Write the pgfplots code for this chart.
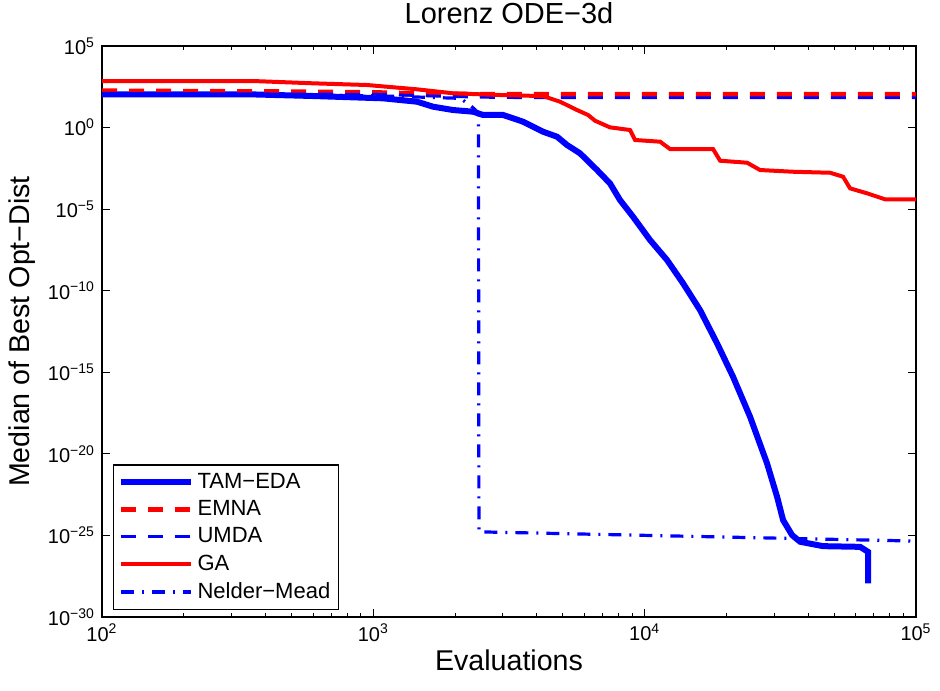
\documentclass[border=0pt]{standalone}
\usepackage{fontspec}
\setmainfont{Liberation Sans}
\usepackage{pgfplots}
\pgfplotsset{compat=1.18}
\newcommand{\tp}[1]{10\textsuperscript{#1}}
\definecolor{mblue}{RGB}{0,0,255}
\definecolor{mred}{RGB}{255,0,0}
\begin{document}
\begin{tikzpicture}
\useasboundingbox (-51pt,-36.5pt) rectangle (419pt,308.5pt);
\begin{axis}[
  at={(0,0)}, anchor=south west,
  scale only axis, width=407pt, height=285.5pt,
  xmode=log, ymode=log,
  xmin=100, xmax=1e5, ymin=1e-30, ymax=1e5,
  xtick={1e2,1e3,1e4,1e5},
  xticklabels={\tp{2},\tp{3},\tp{4},\tp{5}},
  ytick={1e-30,1e-25,1e-20,1e-15,1e-10,1e-5,1e0,1e5},
  yticklabels={\tp{−30},\tp{−25},\tp{−20},\tp{−15},\tp{−10},\tp{−5},\tp{0},\tp{5}},
  yminorticks=false,
  tick align=inside,
  major tick length=4pt, minor tick length=2pt,
  every tick/.style={black, line width=0.5pt},
  axis line style={line width=0.6pt},
  ticklabel style={font=\fontsize{10}{12}\selectfont},
  title={\fontsize{14.5}{16}\selectfont Lorenz ODE−3d},
  title style={at={(axis description cs:0.5,1)}, anchor=base, yshift=5pt, inner sep=0pt},
  xlabel={Evaluations},
  ylabel={Median of Best Opt−Dist},
  label style={font=\fontsize{14.3}{16}\selectfont},
  ylabel style={at={(axis description cs:-0.098,0.5)}, anchor=center, rotate=0},
  xlabel style={at={(axis description cs:0.5,0)}, anchor=center, yshift=-21.5pt},
  legend style={at={(axis description cs:0.0135,0.012)}, anchor=south west,
    draw=black, line width=0.6pt, font=\fontsize{11}{13}\selectfont,
    row sep=0.6pt, inner sep=2pt},
  legend cell align=left,
  legend image code/.code={\draw[#1] (0pt,0pt) -- (35pt,0pt);},
]
% TAM-EDA
\addplot[mblue, line width=3pt] coordinates {
(100,109) (351,109) (600,86) (1086,62) (1449,38.5) (1660,19) (1967,11.9)
(2331,9.4) (2537,5.9) (3006,5.9) (3273,3.69) (3563,2.29) (3876,1.13)
(4222,0.557) (4755,0.275) (5176,0.085) (5778,0.0264) (6676,2.5e-3)
(7450,3.8e-4) (8113,3.6e-5) (9062,3.4e-6) (10470,1.27e-7) (12090,7.6e-9)
(13860,2.8e-10) (16000,6.5e-12) (18490,5.9e-14) (21170,5.3e-16)
(24450,1.9e-18) (28250,2.6e-21) (30770,2.3e-23) (32370,8.7e-25)
(34930,1.05e-25) (37400,4.1e-26) (45460,2.2e-26) (62230,2.0e-26)
(66600,9.8e-27) (66600,1.15e-28)
};
\addlegendentry{TAM−EDA}
% EMNA
\addplot[mred, line width=2.8pt, dash pattern=on 7.5pt off 6pt] coordinates {
(100,170) (500,150) (1000,135) (1500,112) (2000,106) (3000,105) (1e5,105)
};
\addlegendentry{EMNA}
% UMDA
\addplot[mblue, line width=1.4pt, dash pattern=on 7.5pt off 6pt] coordinates {
(100,126) (1000,110) (1700,85) (2500,72) (3500,68) (1e5,68)
};
\addlegendentry{UMDA}
% GA
\addplot[mred, line width=2pt] coordinates {
(100,714) (360,714) (600,516) (948,406) (1449,221) (1967,126) (2931,99)
(4222,85) (4877,38.5) (5632,11.9) (6185,5.9) (6562,2.63) (7450,1.03)
(8830,0.71) (9220,0.173) (11400,0.136) (12400,0.0484) (17870,0.0484)
(18970,0.0093) (23850,0.0070) (26620,0.0025) (35240,0.00196)
(48230,0.0017) (53860,9.7e-4) (57150,1.88e-4) (66070,9.3e-5)
(76900,4.0e-5) (100000,4.0e-5)
};
\addlegendentry{GA}
% Nelder-Mead
\addplot[mblue, line width=1.6pt, dash pattern=on 6.5pt off 4pt on 1pt off 4pt] coordinates {
(100,105) (1000,90) (2087,62) (2272,24) (2440,8) (2450,1.66e-25) (1e5,4.5e-26)
};
\addlegendentry{Nelder−Mead}
\end{axis}
\end{tikzpicture}
\end{document}
